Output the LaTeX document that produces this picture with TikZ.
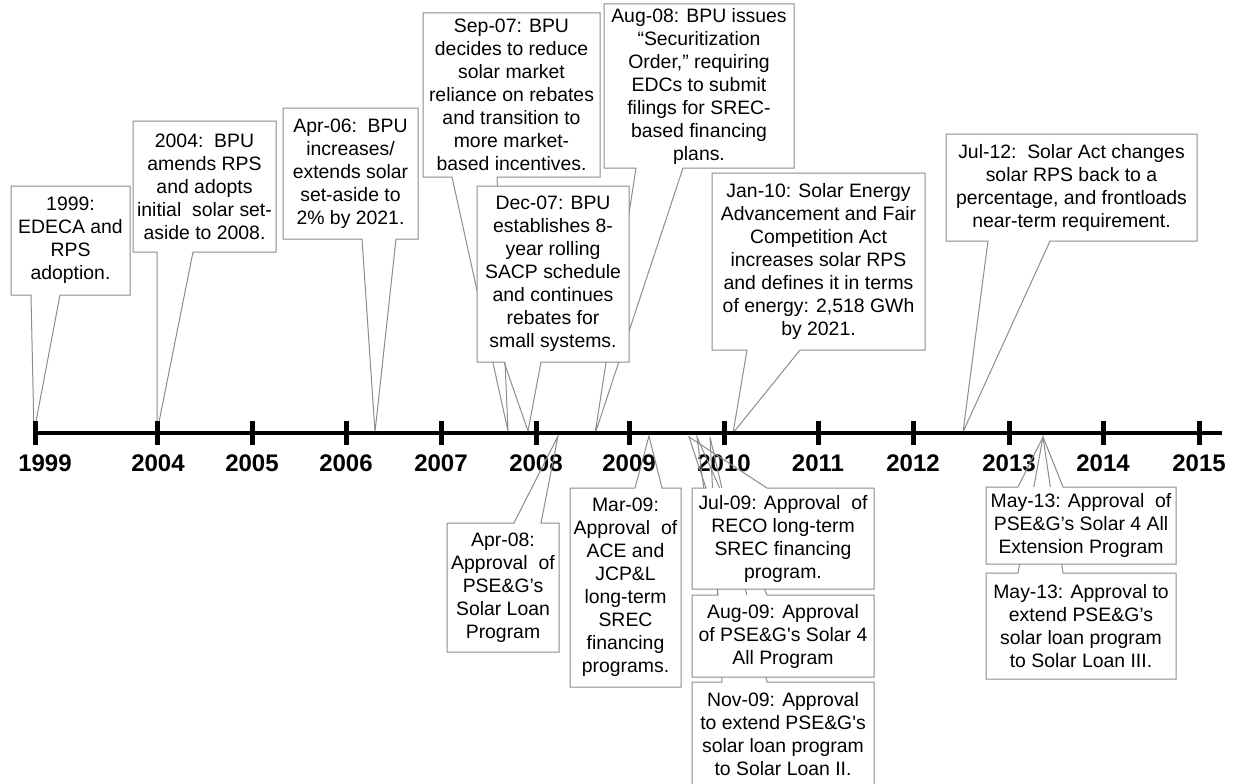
\documentclass[tikz,border=0pt]{standalone}
\usepackage{fontspec}
\setmainfont{Liberation Sans}
\definecolor{cgray}{RGB}{140,140,140}
\tikzset{
  callline/.style={draw=cgray, line width=1pt, line join=miter},
  ctext/.style={align=center, font=\fontsize{19.4}{23}\selectfont, inner sep=0pt, text=black},
  axisline/.style={line width=4.5pt, draw=black},
  tickline/.style={line width=5pt, draw=black},
  yearlabel/.style={font=\fontsize{24}{28}\selectfont\bfseries, inner sep=0pt, anchor=center, text=black},
}
% callout with wedge on the bottom edge: name, L, T, R, B, wedge x1, wedge x2, tip
\newcommand\calloutdown[8]{%
  \fill[white] (#2,#3) rectangle (#4,#5);
  \draw[callline] (#2,#3) -- (#4,#3) -- (#4,#5) -- (#7,#5) -- (#8) -- (#6,#5) -- (#2,#5) -- cycle;
  \node[ctext] (#1) at ({(#2+#4)/2},{(#3+#5)/2})}
% callout with wedge on the top edge
\newcommand\calloutup[8]{%
  \fill[white] (#2,#3) rectangle (#4,#5);
  \draw[callline] (#2,#3) -- (#6,#3) -- (#8) -- (#7,#3) -- (#4,#3) -- (#4,#5) -- (#2,#5) -- cycle;
  \node[ctext] (#1) at ({(#2+#4)/2},{(#3+#5)/2})}
\begin{document}
\begin{tikzpicture}[x=1pt,y=-1pt]
\useasboundingbox (0,0) rectangle (1239,784);
\clip (0,0) rectangle (1239,784);

% year labels
\node[yearlabel] (l1999) at (45,463) {1999};
\foreach \yr/\xx in {2004/158,2005/252,2006/346,2007/441,2008/536,2009/629,2010/724,2011/818,2012/913,2013/1009,2014/1103,2015/1199}
  \node[yearlabel] (l\yr) at (\xx,463) {\yr};

% tips on the time axis
\coordinate (t1999) at (34,432);
\coordinate (t2004) at (157,432);
\coordinate (tapr06) at (375,432);
\coordinate (tsep07) at (508,431);
\coordinate (tdec07) at (528,431);
\coordinate (taug08) at (595,434);
\coordinate (tjan10) at (733,433);
\coordinate (tjul12) at (963,432);
\coordinate (tapr08) at (558,436);
\coordinate (tmar09) at (649,436);
\coordinate (tjul09) at (689,437);
\coordinate (taug09) at (697,437);
\coordinate (tnov09) at (710,437);
\coordinate (tmay13) at (1043,437);

% callouts above the axis
\calloutdown{c1999}{11}{186}{130}{295}{31}{60}{t1999}
  {1999:\\EDECA and\\RPS\\adoption.};
\calloutdown{c2004}{133}{121}{276}{252}{157}{193}{t2004}
  {2004:\ \ BPU\\amends RPS\\and adopts\\initial\ \ solar set-\\aside to 2008.};
\calloutdown{capr06}{283}{108}{418}{239}{362}{396}{tapr06}
  {Apr-06:\ \ BPU\\increases/\\extends solar\\set-aside to\\2\% by 2021.};
\calloutdown{csep07}{423}{13}{600}{177}{452}{497}{tsep07}
  {Sep-07: BPU\\decides to reduce\\solar market\\reliance on rebates\\and transition to\\more market-\\based incentives.};
\calloutdown{caug08}{604}{4}{794}{168}{636}{683}{taug08}
  {Aug-08: BPU issues\\“Securitization\\Order,” requiring\\EDCs to submit\\filings for SREC-\\based financing\\plans.};
\calloutdown{cdec07}{477}{186}{629}{362}{504}{541}{tdec07}
  {Dec-07: BPU\\establishes 8-\\year rolling\\SACP schedule\\and continues\\rebates for\\small systems.};
\calloutdown{cjan10}{712}{173}{925}{350}{747}{800}{tjan10}
  {Jan-10: Solar Energy\\Advancement and Fair\\Competition Act\\increases solar RPS\\and defines it in terms\\of energy: 2,518 GWh\\by 2021.};
\calloutdown{cjul12}{946}{134}{1197}{241}{988}{1050}{tjul12}
  {Jul-12:\ \ Solar Act changes\\solar RPS back to a\\percentage, and frontloads\\near-term requirement.};

% callouts below the axis
\calloutup{capr08}{447}{523}{559}{652}{514}{541}{tapr08}
  {Apr-08:\\Approval\ \ of\\PSE\&G’s\\Solar Loan\\Program};
\calloutup{cmar09}{570}{488}{681}{687}{635}{662}{tmar09}
  {Mar-09:\\Approval\ \ of\\ACE and\\JCP\&L\\long-term\\SREC\\financing\\programs.};
\calloutup{cnov09}{692}{682}{874}{787}{722}{767}{tnov09}
  {Nov-09: Approval\\to extend PSE\&G\textquotesingle s\\solar loan program\\to Solar Loan II.};
\calloutup{caug09}{692}{595}{874}{677}{718}{767}{taug09}
  {Aug-09: Approval\\of PSE\&G\textquotesingle s Solar 4\\All Program};
\calloutup{cjul09}{692}{488}{874}{589}{706}{767}{tjul09}
  {Jul-09: Approval\ \ of\\RECO long-term\\SREC financing\\program.};
\calloutup{cmay13b}{986}{573}{1176}{679}{1018}{1063}{tmay13}
  {May-13: Approval to\\extend PSE\&G’s\\solar loan program\\to Solar Loan III.};
\calloutup{cmay13a}{986}{487}{1176}{564}{1018}{1063}{tmay13}
  {May-13: Approval\ \ of\\PSE\&G’s Solar 4 All\\Extension Program};

% time axis
\coordinate (axstart) at (33,433);
\coordinate (axend) at (1222,433);
\draw[axisline] (axstart) -- (axend);
\foreach \xx in {35,157,252,346,441,536,629,724,818,913,1009,1103,1199}
  \draw[tickline] (\xx,421) -- (\xx,445);
\end{tikzpicture}
\end{document}
